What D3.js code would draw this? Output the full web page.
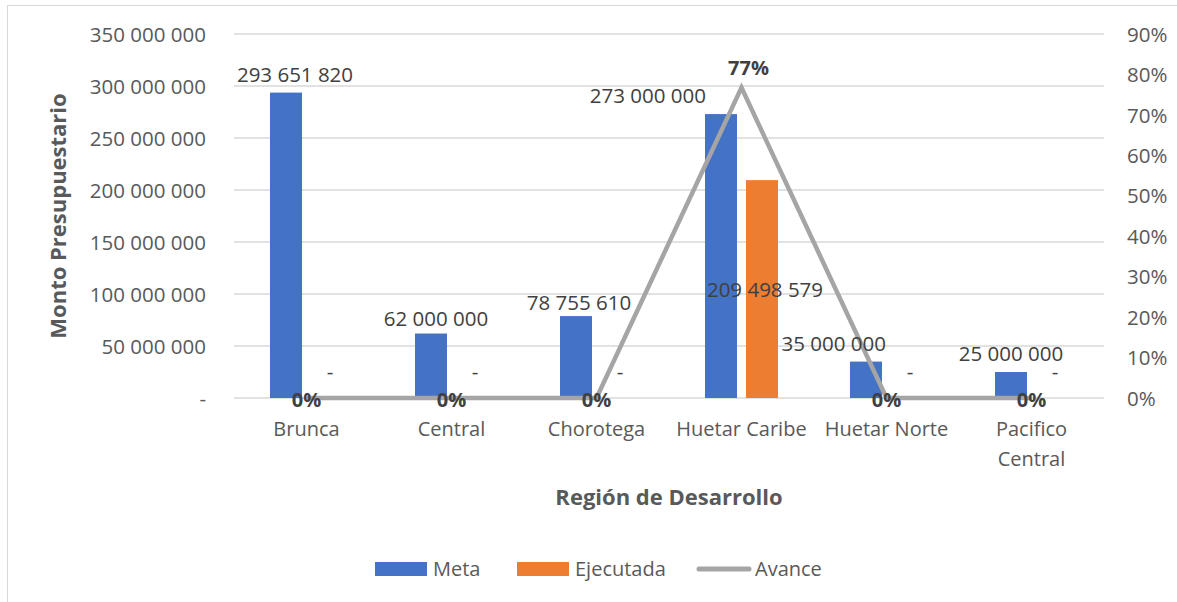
<!DOCTYPE html>
<html><head><meta charset="utf-8">
<script src="https://cdn.jsdelivr.net/npm/d3@7"></script>
<style>
html,body{margin:0;padding:0;background:#fff;}
svg text{font-family:"Open Sans",sans-serif;}
</style></head>
<body><svg id="c" width="1177" height="602"></svg>
<script>
const categories = ["Brunca","Central","Chorotega","Huetar Caribe","Huetar Norte","Pacifico Central"];
const meta = [293651820, 62000000, 78755610, 273000000, 35000000, 25000000];
const ejecutada = [0, 0, 0, 209498579, 0, 0];
const avance = [0, 0, 0, 0.7674, 0, 0];
const leftTicks = [0, 50000000, 100000000, 150000000, 200000000, 250000000, 300000000, 350000000];
const rightTicks = [0, 0.1, 0.2, 0.3, 0.4, 0.5, 0.6, 0.7, 0.8, 0.9];
const seriesNames = ["Meta", "Ejecutada", "Avance"];
const colors = {Meta:"#4472C4", Ejecutada:"#ED7D31", Avance:"#A5A5A5"};

const svg = d3.select("#c");
const L = 234, R = 1104, T = 34, B = 398;
const x = d3.scaleBand().domain(categories).range([L, R]);
const y = d3.scaleLinear().domain([0, 350000000]).range([B, T]);
const y2 = d3.scaleLinear().domain([0, 0.9]).range([B, T]);
const barW = 32, gap = 9;
const fmt = v => v === 0 ? "-" : d3.format(",")(v).replace(/,/g, " ");

// chart border
svg.append("rect").attr("x", 7.5).attr("y", 5.5).attr("width", 1200).attr("height", 700)
  .attr("fill", "none").attr("stroke", "#D9D9D9").attr("stroke-width", 1);

// gridlines
svg.append("g").selectAll("line").data(leftTicks).join("line")
  .attr("x1", L).attr("x2", R).attr("y1", d => y(d)).attr("y2", d => y(d))
  .attr("stroke", "#D9D9D9").attr("stroke-width", 1.5);

// left axis
const ax = d3.axisLeft(y).tickValues(leftTicks).tickSize(0).tickPadding(0)
  .tickFormat(d => d === 0 ? "-" : fmt(d));
const gL = svg.append("g").attr("transform", `translate(${L - 28},0)`).call(ax);
gL.select(".domain").remove();
gL.selectAll("text").attr("font-size", 20.5).attr("fill", "#595959").attr("font-family", "Open Sans")
  .attr("dy", "0.35em");

// right axis
const ax2 = d3.axisRight(y2).tickValues(rightTicks).tickSize(0).tickPadding(0)
  .tickFormat(d3.format(".0%"));
const gR = svg.append("g").attr("transform", `translate(${R + 23},0)`).call(ax2);
gR.select(".domain").remove();
gR.selectAll("text").attr("font-size", 20.5).attr("fill", "#595959").attr("font-family", "Open Sans")
  .attr("dy", "0.35em");

// bars
const cx = c => x(c) + x.bandwidth() / 2;
svg.append("g").selectAll("rect").data(categories).join("rect")
  .attr("x", c => cx(c) - gap / 2 - barW).attr("width", barW)
  .attr("y", (c, i) => y(meta[i])).attr("height", (c, i) => y(0) - y(meta[i]))
  .attr("fill", colors.Meta);
svg.append("g").selectAll("rect").data(categories).join("rect")
  .attr("x", c => cx(c) + gap / 2).attr("width", barW)
  .attr("y", (c, i) => y(ejecutada[i])).attr("height", (c, i) => y(0) - y(ejecutada[i]))
  .attr("fill", colors.Ejecutada);

// line
const line = d3.line().x((d, i) => cx(categories[i])).y(d => y2(d));
svg.append("path").datum(avance).attr("d", line).attr("fill", "none")
  .attr("stroke", colors.Avance).attr("stroke-width", 4.5).attr("stroke-linejoin", "miter");

// meta labels (some manually moved, as in the source)
const metaAdj = {
  "Brunca": {dx: 9, dy: 0, anchor: "middle"},
  "Central": {dx: 5, dy: 3, anchor: "middle"},
  "Chorotega": {dx: 3, dy: 5, anchor: "middle"},
  "Huetar Caribe": {dx: -barW / 2 + 1, dy: 0, anchor: "end"},
  "Huetar Norte": {dx: -barW / 2 + 36, dy: 0, anchor: "end"},
  "Pacifico Central": {dx: 0, dy: 0, anchor: "middle"}
};
const mcx = c => cx(c) - gap / 2 - barW / 2;
svg.append("g").selectAll("text").data(categories).join("text")
  .attr("x", c => mcx(c) + metaAdj[c].dx)
  .attr("y", (c, i) => y(meta[i]) - 18 + metaAdj[c].dy)
  .attr("dy", "0.35em").attr("text-anchor", c => metaAdj[c].anchor)
  .attr("font-size", 20.5).attr("fill", "#404040")
  .text((c, i) => fmt(meta[i]));

// ejecutada labels
const ecx = c => cx(c) + gap / 2 + barW / 2;
svg.append("g").selectAll("text").data(categories).join("text")
  .attr("x", c => ecx(c) + 3)
  .attr("y", (c, i) => ejecutada[i] === 0 ? y(0) - 26 : (y(ejecutada[i]) + y(0)) / 2 + 1)
  .attr("dy", "0.35em").attr("text-anchor", "middle")
  .attr("font-size", 20.5).attr("fill", "#404040")
  .text((c, i) => fmt(ejecutada[i]));

// avance labels
svg.append("g").selectAll("text").data(categories).join("text")
  .attr("x", (c, i) => cx(c) + (avance[i] > 0 ? 7 : 0))
  .attr("y", (c, i) => avance[i] > 0 ? y2(avance[i]) - 20 : y2(avance[i]) + 2)
  .attr("dy", "0.35em").attr("text-anchor", "middle")
  .attr("font-size", 20).attr("font-weight", "bold").attr("fill", "#404040")
  .text((c, i) => d3.format(".0%")(avance[i]));

// category labels
const catG = svg.append("g");
categories.forEach(c => {
  const words = c === "Pacifico Central" ? ["Pacifico", "Central"] : [c];
  words.forEach((w, k) => {
    catG.append("text").attr("x", cx(c)).attr("y", 429 + k * 30).attr("dy", "0.35em")
      .attr("text-anchor", "middle").attr("font-size", 20).attr("fill", "#595959").text(w);
  });
});

// axis titles
svg.append("text").attr("x", 669).attr("y", 497).attr("dy", "0.35em")
  .attr("text-anchor", "middle").attr("font-size", 22).attr("font-weight", "bold")
  .attr("fill", "#595959").text("Región de Desarrollo");
svg.append("text").attr("transform", "translate(58,216) rotate(-90)").attr("dy", "0.35em")
  .attr("text-anchor", "middle").attr("font-size", 22).attr("font-weight", "bold")
  .attr("fill", "#595959").text("Monto Presupuestario");

// legend
const legX = [375, 517, 697];
const lg = svg.append("g");
seriesNames.forEach((s, i) => {
  if (s === "Avance") {
    lg.append("line").attr("x1", legX[i] + 2).attr("x2", legX[i] + 52).attr("y1", 569).attr("y2", 569)
      .attr("stroke", colors[s]).attr("stroke-width", 5).attr("stroke-linecap", "round");
  } else {
    lg.append("rect").attr("x", legX[i]).attr("y", 562).attr("width", 52).attr("height", 14).attr("fill", colors[s]);
  }
  lg.append("text").attr("x", legX[i] + 58).attr("y", 569).attr("dy", "0.35em")
    .attr("font-size", 20).attr("fill", "#595959").text(s);
});
</script></body></html>
